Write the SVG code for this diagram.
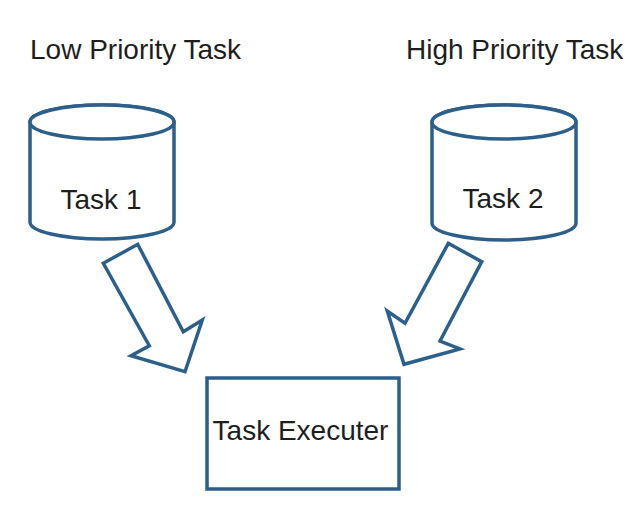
<svg xmlns="http://www.w3.org/2000/svg" width="640" height="519" viewBox="0 0 640 519">
<style>
.shape{fill:#ffffff;stroke:#2d5f8b;stroke-width:3.5;stroke-linejoin:miter}
.lbl{font-family:"Liberation Sans",Arial,sans-serif;font-size:28px;fill:#1e1e1e}
</style>
<rect width="640" height="519" fill="#ffffff"/>
<g id="title-low"><text class="lbl" x="30" y="59">Low Priority Task</text></g>
<g id="title-high"><text class="lbl" x="406" y="59">High Priority Task</text></g>
<g id="task1">
<path class="shape" d="M30,122 L30,222 A72,17 0 0 0 174,222 L174,122 A72,17 0 0 0 30,122 Z"/>
<ellipse class="shape" cx="102" cy="122" rx="72" ry="17"/>
<text class="lbl" x="101" y="209" text-anchor="middle">Task 1</text>
</g>
<g id="task2">
<path class="shape" d="M432,122 L432,223 A72,17 0 0 0 576,223 L576,122 A72,17 0 0 0 432,122 Z"/>
<ellipse class="shape" cx="504" cy="122" rx="72" ry="17"/>
<text class="lbl" x="503" y="208" text-anchor="middle">Task 2</text>
</g>
<g id="executer">
<rect class="shape" x="207" y="378" width="192" height="111"/>
<text class="lbl" x="300.5" y="440" text-anchor="middle">Task Executer</text>
</g>
<g id="connectors">
<polygon class="shape" points="103.3,263.3 137.7,244.3 183.3,331.7 202.3,320 185,371.7 131,355.7 149.3,345.7"/>
<polygon class="shape" points="448.3,243.3 481.7,261.7 440,341 460,349 404,364.3 387.3,311 405,323.3"/>
</g>
</svg>
